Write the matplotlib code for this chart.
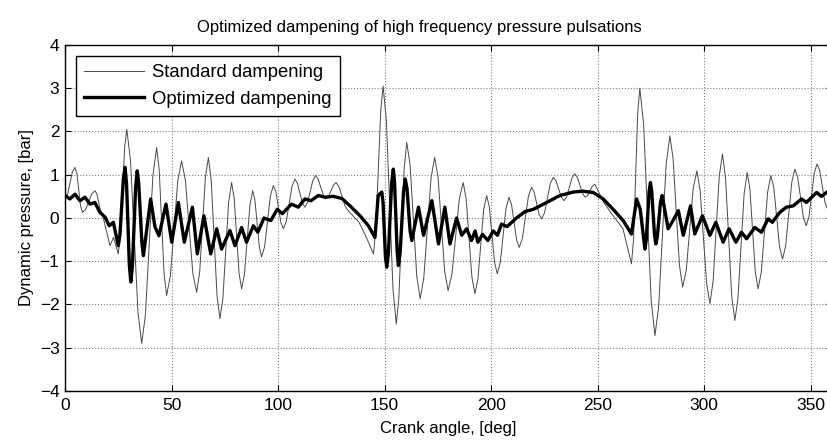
import numpy as np
import matplotlib
matplotlib.use("Agg")
from matplotlib import pyplot as plt

plt.rcParams['font.family'] = ['Liberation Sans', 'DejaVu Sans']

# standard dampening (thin line): peaks, troughs and shoulders
std_angle = [0, 1.2, 3.5, 4.7, 5.6, 7.3, 8.2, 9.7, 12.6, 14.1, 15, 16.6, 17.5, 21.1, 22.8, 25,
             26, 28, 29, 30.75, 34.25, 36, 37.75, 41.25, 43, 44.2, 46.5, 47.7, 49.45, 52.95,
             54.7, 56.5, 60, 61.8, 63.2, 65.9, 67.3, 68.65, 71.35, 72.7, 74.1, 76.8, 78.2,
             79.4, 81.7, 82.9, 84.2, 86.8, 88.1, 89.15, 91.25, 92.3, 93.7, 96.4, 97.8, 99,
             101.3, 102.5, 103.85, 106.55, 107.9, 109.1, 111.4, 112.6, 113.85, 116.35, 117.6,
             118.8, 121.3, 122.5, 123.7, 126, 127.2, 128.6, 131.5, 132.9, 138, 141, 144.8,
             145.9, 148.2, 149.3, 150.85, 153.95, 155.5, 156.7, 159.2, 160.4, 162, 165.1,
             166.7, 168.4, 171.8, 173.5, 175.1, 178.2, 179.8, 181.6, 185.1, 186.9, 188.3,
             191, 192.4, 193.8, 196.5, 197.9, 199.15, 201.65, 202.9, 204.3, 207, 208.4,
             209.6, 212, 213.2, 214.65, 217.55, 219, 220.2, 222.5, 223.7, 225.1, 227.8,
             229.2, 230.45, 232.95, 234.2, 235.5, 238, 239.3, 240.5, 243, 244.2, 245.3,
             247.6, 248.7, 253, 257.3, 261.9, 265.9, 266.9, 268.8, 269.8, 271.6, 275.1,
             276.9, 278.65, 282.15, 283.9, 285.4, 288.4, 289.9, 291.6, 294.9, 296.6, 298.1,
             301.2, 302.7, 304.2, 307.1, 308.6, 310.05, 312.95, 314.4, 315.85, 318.75,
             320.2, 321.5, 324, 325.3, 326.8, 329.8, 331.3, 332.7, 335.4, 336.8, 338.25,
             341.15, 342.6, 343.9, 346.6, 347.9, 349.2, 351.7, 353, 354.25, 356.75, 358, 360]
std_p = [0.45, 0.55, 1.07, 1.17, 1.02, 0.28, 0.13, 0.2, 0.56, 0.63, 0.55, 0.18, 0.1, -0.64, -0.45, -0.83,
         -0.41, 1.63, 2.05, 1.33, -2.18, -2.9, -2.24, 0.97, 1.63, 1.13, -1.29, -1.79, -1.34, 0.87,
         1.32, 0.88, -1.28, -1.72, -1.26, 0.94, 1.4, 0.86, -1.79, -2.33, -1.87, 0.36, 0.82,
         0.46, -1.28, -1.64, -1.31, 0.3, 0.63, 0.41, -0.68, -0.9, -0.66, 0.51, 0.75, 0.6,
         -0.1, -0.25, -0.08, 0.73, 0.9, 0.8, 0.35, 0.25, 0.36, 0.87, 0.98,
         0.9, 0.52, 0.44, 0.5, 0.76, 0.82, 0.72, 0.27, 0.17, -0.1, -0.4, -0.83,
         -0.26, 2.48, 3.05, 2.25, -1.65, -2.45, -1.84, 1.14, 1.75, 1.22, -1.34,
         -1.87, -1.39, 0.92, 1.4, 0.95, -1.23, -1.68, -1.31, 0.45, 0.82, 0.44,
         -1.37, -1.75, -1.42, 0.19, 0.52, 0.26, -1.03, -1.29, -1.03, 0.22, 0.48,
         0.31, -0.51, -0.68, -0.48, 0.51, 0.71, 0.6, 0.09, -0.02, 0.12, 0.8,
         0.94, 0.86, 0.48, 0.4, 0.49, 0.93, 1.02, 0.94, 0.56, 0.48, 0.52,
         0.74, 0.78, 0.35, 0.05, -0.25, -1.06, -0.47, 2.41, 3.0, 2.16, -1.88,
         -2.72, -2.05, 1.23, 1.9, 1.39, -1.09, -1.6, -1.21, 0.7, 1.09, 0.64,
         -1.53, -1.98, -1.47, 0.97, 1.48, 0.92, -1.81, -2.37, -1.87, 0.55,
         1.05, 0.66, -1.25, -1.64, -1.26, 0.6, 0.98, 0.7, -0.67, -0.95, -0.65,
         0.83, 1.13, 0.94, 0.01, -0.18, 0.03, 1.04, 1.25, 1.1, 0.35, 0.2, 0.45]

# optimized dampening (thick line)
opt_angle = [0, 2.3, 4.7, 7.0, 9.4, 11.7, 14, 16.4, 18.8, 20.8, 22.7, 25, 25.8, 27.4, 28.2,
             28.9, 30.2, 30.9, 31.65, 33.15, 33.9, 34.6, 36.1, 36.8, 40.2, 42.2, 44.1, 47.4,
             50.1, 53.2, 56, 59.8, 62.1, 65.2, 68.4, 71.2, 73.5, 77.4, 79.8, 82.9, 85.2, 88.4,
             90.5, 93.4, 96.6, 99.6, 102, 106.3, 109.5, 112.6, 115.5, 118.9, 122, 126, 130,
             133.8, 138.5, 142.4, 145.5, 147, 148.7, 149.3, 150.4, 151, 151.8, 153.3, 154.1,
             154.7, 155.9, 156.5, 157.3, 158.9, 159.7, 160.5, 162, 162.8, 165.9, 168.3,
             172.2, 175.3, 178.3, 180.7, 183.8, 186.2, 188.5, 190.8, 192.5, 193.8,
             196, 198.5, 201, 203, 204.9, 207.5, 211.9, 216, 219.8, 223, 227.6,
             232.3, 238.6, 243, 247.9, 252.6, 257.3, 262, 265.9, 268.3, 270, 272.2,
             272.85, 274.15, 274.8, 275.4, 276.7, 277.3, 278, 279.5, 280.3, 283.1, 285.5,
             287.9, 290.2, 293.6, 295.6, 299.2, 302.7, 305.5, 308.9, 311.7, 314.9, 317.5,
             319.9, 323.8, 326.9, 330, 332, 335.5, 338.6, 341.8, 345.7, 348, 352.8, 355,
             357.7, 360]
opt_p = [0.52, 0.44, 0.55, 0.4, 0.48, 0.32, 0.36, 0.13, 0.02, -0.18, -0.1, -0.64, -0.38, 0.91, 1.17,
         0.78, -1.09, -1.48, -1.1, 0.71, 1.09, 0.8, -0.58, -0.87, 0.44, -0.2, -0.41, 0.32,
         -0.56, 0.36, -0.56, 0.25, -0.83, 0.05, -0.83, -0.25, -0.72, -0.29, -0.64, -0.22, -0.56, -0.18,
         -0.33, 0.0, -0.06, 0.2, 0.1, 0.32, 0.25, 0.44, 0.4, 0.52, 0.48, 0.5, 0.45,
         0.28, 0.05, -0.18, -0.45, 0.52, 0.6, 0.35, -0.89, -1.14, -0.81, 0.8, 1.13,
         0.8, -0.77, -1.1, -0.81, 0.61, 0.9, 0.69, -0.31, -0.52, 0.25, -0.4,
         0.4, -0.6, 0.25, -0.6, 0.0, -0.4, -0.25, -0.52, -0.3, -0.56,
         -0.38, -0.52, -0.3, -0.4, -0.14, -0.2, 0.0, 0.15, 0.2, 0.28, 0.4,
         0.52, 0.6, 0.62, 0.59, 0.44, 0.2, -0.06, -0.37, 0.44, 0.2, -0.72,
         -0.5, 0.6, 0.82, 0.61, -0.39, -0.6, -0.44, 0.36, 0.52, -0.25, -0.05,
         0.17, -0.4, 0.28, -0.37, 0.05, -0.4, -0.1, -0.56, -0.25, -0.56, -0.33,
         -0.48, -0.22, -0.33, -0.02, -0.1, 0.13, 0.25, 0.28, 0.44, 0.36, 0.59, 0.5,
         0.6, 0.62]

x_ticks = [0, 50, 100, 150, 200, 250, 300, 350]
y_ticks = [-4, -3, -2, -1, 0, 1, 2, 3, 4]

fig = plt.figure(figsize=(8.28, 4.41), dpi=100)
# plot area runs past the right edge, like the cropped original
ax = fig.add_axes([0.0785, 0.1134, 0.9263, 0.7846])

ax.plot(std_angle, std_p, color="#4a4a4a", linewidth=0.7, label="Standard dampening")
ax.plot(opt_angle, opt_p, color="black", linewidth=2.4, label="Optimized dampening")

ax.set_xlim(0, 360)
ax.set_ylim(-4, 4)
ax.set_xticks(x_ticks)
ax.set_yticks(y_ticks)
ax.grid(True, linestyle=":", color="#808080", linewidth=0.8)
ax.tick_params(direction="in", top=True, right=True, labelsize=12.5, length=4)
ax.tick_params(axis="x", pad=5)
ax.tick_params(axis="y", pad=4)
for s in ax.spines.values():
    s.set_linewidth(1.0)

ax.set_title("Optimized dampening of high frequency pressure pulsations", fontsize=12,
             x=0.462, pad=9)
ax.set_xlabel("Crank angle, [deg]", fontsize=12, labelpad=6)
ax.set_ylabel("Dynamic pressure, [bar]", fontsize=12, labelpad=4)

leg = ax.legend(loc="upper left", fontsize=13.3, frameon=True, fancybox=False,
                edgecolor="black", framealpha=1, handlelength=3.2, handletextpad=0.45,
                borderaxespad=0.6, borderpad=0.45, labelspacing=0.5)
leg.get_frame().set_linewidth(1.0)

plt.savefig("out.png", dpi=100)
